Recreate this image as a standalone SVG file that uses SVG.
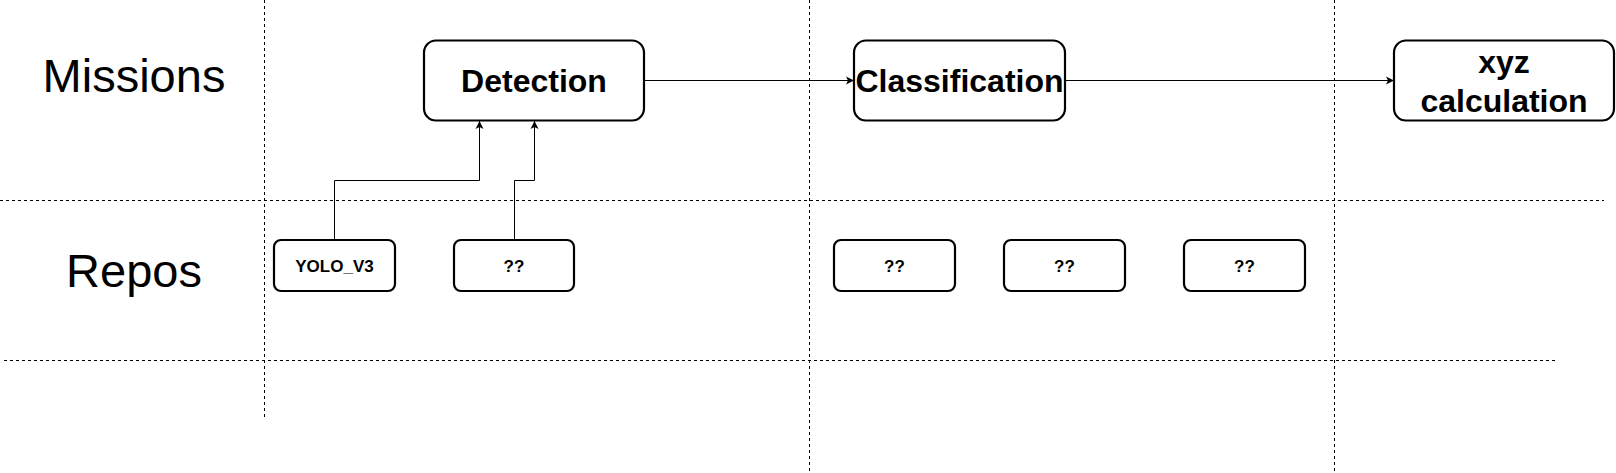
<svg xmlns="http://www.w3.org/2000/svg" width="1616" height="473" viewBox="0 0 1616 473">
<style>
.grid{stroke:#000;stroke-width:1;stroke-dasharray:3 3;fill:none}
.box{fill:#fff;stroke:#000;stroke-width:2.2}
.edge{stroke:#000;stroke-width:1;fill:none}
.lane{font-family:"Liberation Sans",Arial,sans-serif;font-size:47px;fill:#000;text-anchor:middle}
.big{font-family:"Liberation Sans",Arial,sans-serif;font-size:32px;font-weight:bold;fill:#000;text-anchor:middle}
.small{font-family:"Liberation Sans",Arial,sans-serif;font-size:17px;font-weight:bold;fill:#000;text-anchor:middle}
</style>
<defs>
<marker id="arrow" markerUnits="userSpaceOnUse" markerWidth="10" markerHeight="10" refX="8" refY="5" orient="auto">
<path d="M0,1 L8,5 L0,9 L2,5 Z" fill="#000" stroke="none"/>
</marker>
</defs>
<rect width="1616" height="473" fill="#fff"/>
<g id="grid">
<line class="grid" x1="264.5" y1="0" x2="264.5" y2="417"/>
<line class="grid" x1="809.5" y1="0" x2="809.5" y2="473"/>
<line class="grid" x1="1334.5" y1="0" x2="1334.5" y2="473"/>
<line class="grid" x1="0" y1="200.5" x2="1604" y2="200.5"/>
<line class="grid" x1="4" y1="360.5" x2="1555" y2="360.5"/>
</g>
<g id="lane-missions"><text class="lane" x="134" y="92">Missions</text></g>
<g id="lane-repos"><text class="lane" x="134" y="287">Repos</text></g>
<g id="connectors">
<path class="edge" d="M644,80.5 H854" marker-end="url(#arrow)"/>
<path class="edge" d="M1065,80.5 H1394" marker-end="url(#arrow)"/>
<path class="edge" d="M334.5,240 V180.5 H479.5 V121" marker-end="url(#arrow)"/>
<path class="edge" d="M514.5,240 V180.5 H534.5 V121" marker-end="url(#arrow)"/>
</g>
<g id="detection">
<rect class="box" x="424" y="40.5" width="220" height="80" rx="12"/>
<text class="big" x="534" y="92">Detection</text>
</g>
<g id="classification">
<rect class="box" x="854" y="40.5" width="211" height="80" rx="12"/>
<text class="big" x="959.5" y="92">Classification</text>
</g>
<g id="xyz">
<rect class="box" x="1394" y="40.5" width="220" height="80" rx="12"/>
<text class="big" x="1504" y="73">xyz</text>
<text class="big" x="1504" y="111.5">calculation</text>
</g>
<g id="yolo">
<rect class="box" x="274" y="240" width="121" height="51" rx="7"/>
<text class="small" x="334.5" y="271.5">YOLO_V3</text>
</g>
<g id="repo2">
<rect class="box" x="454" y="240" width="120" height="51" rx="7"/>
<text class="small" x="514" y="271.5">??</text>
</g>
<g id="repo3">
<rect class="box" x="834" y="240" width="121" height="51" rx="7"/>
<text class="small" x="894.5" y="271.5">??</text>
</g>
<g id="repo4">
<rect class="box" x="1004" y="240" width="121" height="51" rx="7"/>
<text class="small" x="1064.5" y="271.5">??</text>
</g>
<g id="repo5">
<rect class="box" x="1184" y="240" width="121" height="51" rx="7"/>
<text class="small" x="1244.5" y="271.5">??</text>
</g>
</svg>
